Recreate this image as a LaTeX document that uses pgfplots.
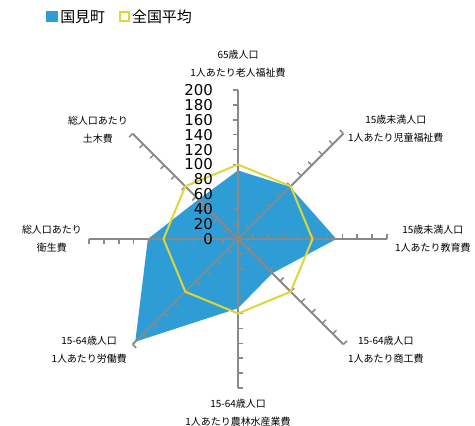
\documentclass[border=0pt]{standalone}
\usepackage{fontspec}
\setmainfont{Noto Sans CJK JP}
\newfontfamily\numfont{DejaVu Sans}
\usepackage{pgfplots}
\pgfplotsset{compat=1.18}
\usepgfplotslibrary{polar}
\definecolor{kblue}{RGB}{46,157,214}
\definecolor{kyellow}{RGB}{220,214,58}
\definecolor{kgray}{RGB}{137,137,137}
\begin{document}
\begin{tikzpicture}
\path[use as bounding box] (0bp,0bp) rectangle (475bp,426bp);
\begin{polaraxis}[
  at={(238bp,187bp)}, anchor=center,
  scale only axis, width=298bp, height=298bp,
  xmin=0, xmax=360, ymin=0, ymax=200,
  hide axis, clip=false,
  legend columns=2,
  legend cell align=left,
  legend style={draw=none, fill=none, at={(-0.144,1.245)}, anchor=west,
    font=\fontsize{15}{18}\selectfont, inner sep=0pt,
    /tikz/every even column/.append style={column sep=12bp}},
]
% 国見町
\addplot[draw=none, fill=kblue,
  legend image code/.code={\fill[kblue] (0bp,-5.5bp) rectangle (12bp,5.5bp);}]
  coordinates {(90,92) (45,99) (0,132) (315,65) (270,93) (225,195) (180,121) (135,75)} -- cycle;
\addlegendentry{国見町}
\pgfplotsextra{
  \foreach \a in {0,45,...,315} {
    \draw[kgray, line width=2bp] (axis cs:\a,0) -- (axis cs:\a,200);
    \foreach \r in {20,40,...,200} {
      \draw[kgray, line width=1.5bp] (axis cs:\a,\r) -- ++(\a+90:5bp);
    }
  }
}
% 全国平均
\addplot[draw=kyellow, line width=2bp, line join=miter,
  legend image code/.code={\draw[kyellow, line width=2bp] (1bp,-4.5bp) rectangle (10bp,4.5bp);}]
  coordinates {(90,100) (45,100) (0,100) (315,100) (270,100) (225,100) (180,100) (135,100)} -- cycle;
\addlegendentry{全国平均}
\pgfplotsextra{
  \foreach \r in {0,20,...,200} {
    \node[anchor=east, xshift=-25bp, inner sep=0pt, font=\numfont\fontsize{15}{15}\selectfont] at (axis cs:90,\r) {\r};
  }
}
\end{polaraxis}
\begin{scope}[every node/.style={inner sep=0pt, align=center, font=\fontsize{10}{18}\selectfont}]
\node[anchor=center] at (238bp,362bp) {65歳人口\\1人あたり老人福祉費};
\node[anchor=west] at (348bp,297bp) {15歳未満人口\\1人あたり児童福祉費};
\node[anchor=west] at (395bp,187bp) {15歳未満人口\\1人あたり教育費};
\node[anchor=west] at (348bp,76bp) {15-64歳人口\\1人あたり商工費};
\node[anchor=center] at (238bp,13bp) {15-64歳人口\\1人あたり農林水産業費};
\node[anchor=east] at (127bp,76bp) {15-64歳人口\\1人あたり労働費};
\node[anchor=east] at (82bp,187bp) {総人口あたり\\衛生費};
\node[anchor=east] at (128bp,296.5bp) {総人口あたり\\土木費};
\end{scope}
\end{tikzpicture}
\end{document}
